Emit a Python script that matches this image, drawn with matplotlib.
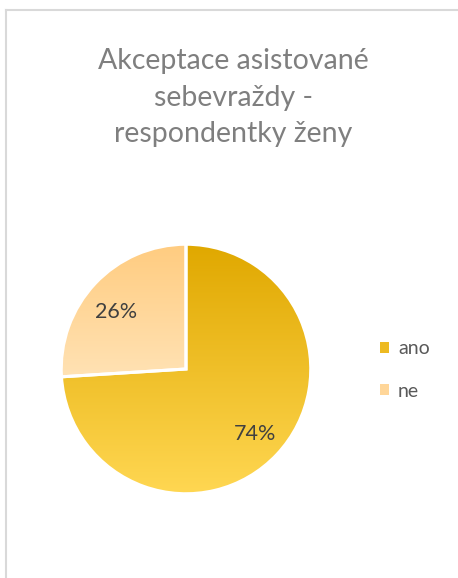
import numpy as np
import matplotlib
matplotlib.use("Agg")
import matplotlib.pyplot as plt
from matplotlib.colors import LinearSegmentedColormap
from matplotlib.lines import Line2D
from matplotlib.patches import Patch

# data
labels = ["ano", "ne"]
values = [74, 26]
grad_top = ["#E0A800", "#FFCC80"]
grad_bottom = ["#FFD752", "#FFE2B4"]
legend_colors = ["#EDBA22", "#FFD699"]
title = "Akceptace asistované\nsebevraždy -\nrespondentky ženy"

plt.rcParams["font.family"] = ["Lato", "DejaVu Sans"]

fig = plt.figure(figsize=(4.58, 5.78), dpi=100)
fig.patch.set_facecolor("white")

# chart frame (top and left edges visible)
fig.add_artist(Line2D([6 / 458, 1], [1 - 10 / 578, 1 - 10 / 578], color="#d9d9d9", lw=1.5))
fig.add_artist(Line2D([6 / 458, 6 / 458], [0, 1 - 10 / 578], color="#d9d9d9", lw=1.5))

fig.text(233 / 458, 1 - 98 / 578, title, ha="center", va="center",
         fontsize=20.5, color="#7f7f7f", linespacing=1.5)

ax = fig.add_axes([60 / 458, 83 / 578, 252 / 458, 252 / 578])
wedges, texts = ax.pie(values, startangle=90, counterclock=False, radius=1,
                       wedgeprops=dict(edgecolor="white", linewidth=2.2))
ax.set_aspect("equal")
ax.axis("off")

# vertical gradient fill for each wedge, clipped to its shape
for w, ctop, cbot in zip(wedges, grad_top, grad_bottom):
    w.set_facecolor("none")
    bb = w.get_path().get_extents(w.get_patch_transform())
    cmap = LinearSegmentedColormap.from_list("g", [cbot, ctop])
    grad = np.linspace(0, 1, 256).reshape(-1, 1)
    im = ax.imshow(grad, cmap=cmap, origin="lower", aspect="auto",
                   extent=[bb.x0, bb.x1, bb.y0, bb.y1], zorder=0.5)
    im.set_clip_path(w)
ax.set_xlim(-1.01, 1.01)
ax.set_ylim(-1.01, 1.01)

# percentage labels
ax.text(0.55, -0.52, f"{values[0]}%", ha="center", va="center", fontsize=15.5, color="#404040")
ax.text(-0.56, 0.46, f"{values[1]}%", ha="center", va="center", fontsize=15.5, color="#404040")

handles = [Patch(facecolor=c, edgecolor="none") for c in legend_colors]
fig.legend(handles, labels, loc="center left", bbox_to_anchor=(362 / 458, 1 - 370 / 578),
           frameon=False, fontsize=14, labelcolor="#595959", handlelength=0.5,
           handleheight=0.5, handletextpad=0.45, labelspacing=1.3)

fig.savefig("out.png", dpi=100)
